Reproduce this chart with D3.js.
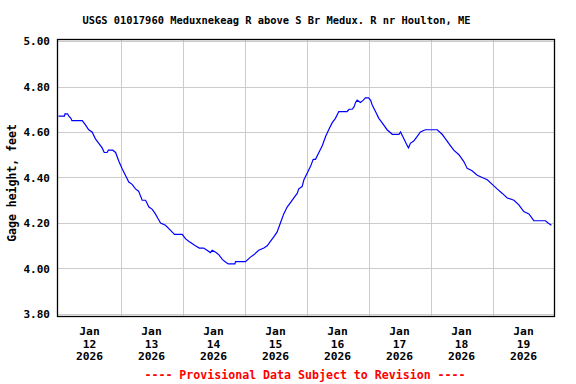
<!DOCTYPE html>
<html>
<head>
<meta charset="utf-8">
<script src="https://cdn.jsdelivr.net/npm/d3@7"></script>
<style>
  html, body { margin: 0; padding: 0; background: #fff; }
  svg { display: block; }
  text { font-family: "DejaVu Sans Mono", "Liberation Mono", monospace; font-weight: bold; }
</style>
</head>
<body>
<svg id="chart" width="576" height="384"></svg>
<script>
// ---- Data (hours since 2026-01-12 00:00, gage height in feet) ----
const hours = [0, 2.3, 2.5, 3.5, 4.0, 4.8, 5.2, 9.2, 10.5, 11.7, 13.0, 14.3, 15.6, 16.9, 17.7, 18.8, 19.3, 21.0, 22.1, 23.4,
  24.6, 25.9, 27.2, 28.5, 29.8, 31.0, 32.4, 33.7, 35.0, 36.3, 37.5, 38.5, 39.5, 41.4, 43.2, 44.9, 47.9, 49.2, 50.4, 51.7,
  53.0, 54.5, 56.2, 57.5, 58.8, 59.5, 61.0, 62.1, 63.4, 64.5, 65.7, 68.3, 68.5, 72.4, 74.3, 75.6, 77.5, 79.5, 80.8, 82.1,
  83.4, 84.6, 85.9, 87.2, 88.5, 89.8, 91.1, 92.4, 93.0, 94.3, 95.0, 96.3, 97.6, 98.6, 99.5, 100.8, 102.1, 103.4, 104.6, 105.9,
  107.2, 108.5, 111.7, 112.5, 113.7, 114.4, 115.0, 115.6, 116.9, 118.0, 118.8, 120.0, 120.8, 121.4, 122.7, 124.0, 125.3, 127.2, 129.2, 131.8,
  132.4, 133.7, 135.0, 135.5, 136.2, 137.5, 138.8, 140.1, 142.0, 146.6, 148.5, 149.8, 151.7, 153.0, 155.0, 156.9, 158.2, 160.1, 162.1, 164.0,
  166.0, 167.9, 169.8, 171.8, 173.7, 176.3, 178.2, 180.1, 182.1, 184.0, 188.5, 189.5, 190.8];
const gageHeight = [4.67, 4.67, 4.68, 4.68, 4.67, 4.66, 4.65, 4.65, 4.63, 4.61, 4.60, 4.57, 4.55, 4.53, 4.51, 4.51, 4.52, 4.52, 4.51, 4.47,
  4.44, 4.41, 4.38, 4.37, 4.35, 4.34, 4.30, 4.30, 4.27, 4.26, 4.24, 4.22, 4.20, 4.19, 4.17, 4.15, 4.15, 4.13, 4.12, 4.11,
  4.10, 4.09, 4.09, 4.08, 4.07, 4.08, 4.07, 4.06, 4.04, 4.03, 4.02, 4.02, 4.03, 4.03, 4.05, 4.06, 4.08, 4.09, 4.10, 4.12,
  4.14, 4.16, 4.20, 4.24, 4.27, 4.29, 4.31, 4.33, 4.35, 4.36, 4.39, 4.42, 4.45, 4.48, 4.48, 4.51, 4.54, 4.58, 4.61, 4.64,
  4.66, 4.69, 4.69, 4.70, 4.70, 4.71, 4.73, 4.74, 4.73, 4.74, 4.75, 4.75, 4.74, 4.72, 4.69, 4.66, 4.64, 4.61, 4.59, 4.59,
  4.60, 4.57, 4.54, 4.53, 4.55, 4.56, 4.58, 4.60, 4.61, 4.61, 4.59, 4.57, 4.54, 4.52, 4.50, 4.47, 4.44, 4.43, 4.41, 4.40,
  4.39, 4.37, 4.35, 4.33, 4.31, 4.30, 4.28, 4.25, 4.24, 4.21, 4.21, 4.20, 4.19];

const yTicks = [3.80, 4.00, 4.20, 4.40, 4.60, 4.80, 5.00];
const dayLabels = ["12", "13", "14", "15", "16", "17", "18", "19"];
const monthLabel = "Jan";
const yearLabel = "2026";
const title = "USGS 01017960 Meduxnekeag R above S Br Medux. R nr Houlton, ME";
const yAxisTitle = "Gage height, feet";
const footer = "---- Provisional Data Subject to Revision ----";

// ---- Layout ----
const svg = d3.select("#chart");
const frame = { left: 57.5, right: 554.5, top: 39.5, bottom: 316.5 };
const start = new Date(2026, 0, 12, 0, 0);
const end = new Date(2026, 0, 20, 0, 0);
const x = d3.scaleTime().domain([start, end]).range([58.5, 554.5]);
const y = d3.scaleLinear().domain([3.80, 5.00]).range([314, 41]);

const data = hours.map((h, i) => ({ t: new Date(start.getTime() + h * 3600e3), v: gageHeight[i] }));

// Grid
const grid = svg.append("g");
grid.selectAll("line.h").data(yTicks).enter().append("line")
  .attr("x1", frame.left).attr("x2", frame.right)
  .attr("y1", d => Math.round(y(d)) + 0.5).attr("y2", d => Math.round(y(d)) + 0.5)
  .attr("stroke", "#cccccc").attr("stroke-width", 1);
const midnights = d3.timeDay.range(d3.timeDay.offset(start, 1), end);
grid.selectAll("line.v").data(midnights).enter().append("line")
  .attr("x1", d => Math.round(x(d)) + 0.5).attr("x2", d => Math.round(x(d)) + 0.5)
  .attr("y1", frame.top).attr("y2", frame.bottom)
  .attr("stroke", "#cccccc").attr("stroke-width", 1);

// Data line
svg.append("path").datum(data)
  .attr("fill", "none").attr("stroke", "#0000ff").attr("stroke-width", 1.2)
  .attr("d", d3.line().x(d => x(d.t)).y(d => y(d.v)));

// Frame
svg.append("rect")
  .attr("x", frame.left).attr("y", frame.top)
  .attr("width", frame.right - frame.left).attr("height", frame.bottom - frame.top)
  .attr("fill", "none").attr("stroke", "#000").attr("stroke-width", 1.3);

// Y tick labels
svg.append("g").selectAll("text").data(yTicks).enter().append("text")
  .attr("x", 50).attr("y", d => y(d) + 4)
  .attr("text-anchor", "end").attr("font-size", 11).attr("fill", "#000")
  .text(d => d3.format(".2f")(d));

// X tick labels (centered at noon)
const noons = d3.timeDay.range(start, end).map(d => d3.timeHour.offset(d, 12));
const xl = svg.append("g").selectAll("g").data(noons).enter().append("g")
  .attr("transform", d => `translate(${x(d)},0)`);
xl.append("text").attr("y", 335).attr("text-anchor", "middle").attr("font-size", 11.3).text(monthLabel);
xl.append("text").attr("y", 347.5).attr("text-anchor", "middle").attr("font-size", 11.3).text((d, i) => dayLabels[i]);
xl.append("text").attr("y", 360).attr("text-anchor", "middle").attr("font-size", 11.3).text(yearLabel);

// Title
svg.append("text").attr("x", 276.5).attr("y", 24).attr("text-anchor", "middle")
  .attr("font-size", 10.4).text(title);

// Y axis title
svg.append("text").attr("transform", "translate(15.5,183) rotate(-90)")
  .attr("text-anchor", "middle").attr("font-size", 11.5).text(yAxisTitle);

// Footer
svg.append("text").attr("x", 305).attr("y", 378.5).attr("text-anchor", "middle")
  .attr("font-size", 11.6).attr("fill", "#ff0000").text(footer);
</script>
</body>
</html>
